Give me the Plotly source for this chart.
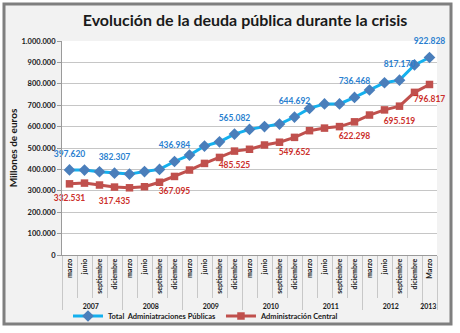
import plotly.graph_objects as go

years = ["2007"] * 4 + ["2008"] * 4 + ["2009"] * 4 + ["2010"] * 4 + ["2011"] * 4 + ["2012"] * 4 + ["2013"]
months = ["marzo", "junio", "septiembre", "diciembre"] * 6 + ["Marzo"]

total = [397620, 397000, 389000, 382307, 378000, 390000, 400000, 436984, 467000, 509000,
         529000, 565082, 587000, 600000, 612000, 644692, 685000, 706000, 706000, 736468,
         771000, 805000, 817170, 888000, 922828]
central = [332531, 336000, 327000, 317435, 314000, 319000, 340000, 367095, 397000, 428000,
           456000, 485525, 494000, 514000, 527000, 549652, 581000, 593000, 600000, 622298,
           654000, 678000, 695519, 760000, 796817]
labelled = [0, 3, 7, 11, 15, 19, 22, 24]

name_total = "Total  Adminiatraciones Públicas"
name_central = "Administración Central"
title = "Evolución de la deuda pública durante la crisis"
ytitle = "Millones de euros"


def fmt(v):
    return f"{v:,}".replace(",", ".")


text_total = [fmt(v) if i in labelled else "" for i, v in enumerate(total)]
text_central = [fmt(v) if i in labelled else "" for i, v in enumerate(central)]

W, H = 460, 333
L, R, T, B = 62, 23, 41, 78
pw, ph = W - L - R, H - T - B

def px_x(x):
    return (x - L) / pw

def px_y(y):
    return (H - B - y) / ph

FONT = "Lato"
X = [years, months]

fig = go.Figure()
fig.add_trace(go.Scatter(
    x=X, y=total, name=name_total, mode="lines+markers",
    line=dict(color="#14b0ee", width=3),
    marker=dict(symbol="diamond", size=9, color="#4a7ebb"),
))
fig.add_trace(go.Scatter(
    x=X, y=central, name=name_central, mode="lines+markers",
    line=dict(color="#c0504d", width=3),
    marker=dict(symbol="square", size=7.5, color="#c0504d"),
))
# data labels (invisible carrier markers set the label offset)
fig.add_trace(go.Scatter(
    x=X, y=total, mode="markers+text", showlegend=False, hoverinfo="skip",
    marker=dict(size=16, opacity=0),
    text=text_total, textposition="top center",
    textfont=dict(family=FONT, size=8.5, color="#2b7fd0", weight="bold"),
    cliponaxis=False,
))
fig.add_trace(go.Scatter(
    x=X, y=central, mode="markers+text", showlegend=False, hoverinfo="skip",
    marker=dict(size=16, opacity=0),
    text=text_central, textposition="bottom center",
    textfont=dict(family=FONT, size=8.5, color="#cc2f2b", weight="bold"),
    cliponaxis=False,
))

fig.update_layout(
    width=W, height=H,
    margin=dict(l=L, r=R, t=T, b=B, autoexpand=False),
    paper_bgcolor="white",
    plot_bgcolor="white",
    separators=",.",
    showlegend=True,
    title=dict(text=title, x=245 / W, xanchor="center", y=1 - 20 / H, yanchor="middle",
               font=dict(family=FONT, size=16, color="#1a1a1a", weight="bold")),
    legend=dict(orientation="h", x=px_x(68), xanchor="left", y=px_y(316), yanchor="middle",
                font=dict(family=FONT, size=7.5, color="#1a1a1a", weight="bold"),
                bgcolor="rgba(0,0,0,0)", itemwidth=30, tracegroupgap=0),
    shapes=[
        dict(type="rect", xref="paper", yref="paper", layer="below",
             x0=px_x(4), x1=px_x(451), y0=px_y(324), y1=px_y(4),
             fillcolor="#f2f2f2", line=dict(color="#7f7f7f", width=3)),
        dict(type="rect", xref="paper", yref="paper", layer="below",
             x0=0, x1=1, y0=0, y1=1, fillcolor="white", line=dict(width=0)),
    ],
)

fig.update_yaxes(
    range=[0, 1000000], dtick=100000, tickformat=",d", automargin=False,
    showgrid=True, gridcolor="#c6c6c6", gridwidth=1,
    showline=True, linecolor="#9a9a9a", linewidth=1,
    ticks="outside", ticklen=4, tickcolor="#9a9a9a",
    tickfont=dict(family=FONT, size=7.5, color="#1a1a1a", weight="bold"),
    title=dict(text=ytitle, standoff=1,
               font=dict(family=FONT, size=10, color="#1a1a1a", weight="bold")),
    zeroline=False,
)
fig.update_xaxes(
    type="multicategory", automargin=False, range=[-0.5, len(months) - 0.5],
    showline=True, linecolor="#9a9a9a", linewidth=1,
    ticks="outside", tickson="boundaries", ticklen=42, tickcolor="#c8c8c8",
    tickangle=-90,
    tickfont=dict(family=FONT, size=7, color="#1a1a1a", weight="bold"),
    showdividers=True, dividercolor="#c8c8c8", dividerwidth=1,
    showgrid=False,
)

fig.write_html("out.html")
